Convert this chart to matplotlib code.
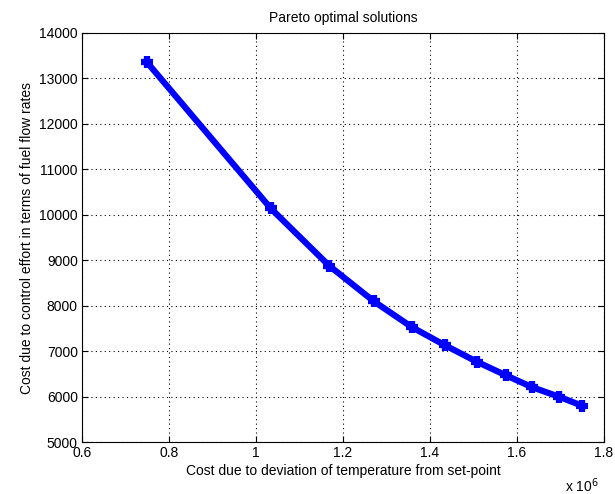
import matplotlib
matplotlib.use("Agg")
import matplotlib.pyplot as plt

# Pareto front points (x in units of 1e6)
deviation_cost = [0.749, 1.034, 1.168, 1.271, 1.358, 1.435, 1.509, 1.575, 1.635, 1.697, 1.749]
control_cost = [13360, 10140, 8880, 8095, 7530, 7125, 6760, 6465, 6205, 5995, 5800]

x_ticks = [0.6, 0.8, 1.0, 1.2, 1.4, 1.6, 1.8]
x_tick_labels = ["0.6", "0.8", "1", "1.2", "1.4", "1.6", "1.8"]
y_ticks = list(range(5000, 14001, 1000))

plt.rcParams['font.family'] = ['Liberation Sans', 'DejaVu Sans']
plt.rcParams['font.size'] = 10

fig = plt.figure(figsize=(6.15, 4.94), dpi=100)
ax = fig.add_axes([82 / 615, 52 / 494, 522 / 615, 409 / 494])

ax.plot(deviation_cost, control_cost, color='#0000ff', linewidth=4.5,
        marker='+', markersize=9, markeredgewidth=4.5)

ax.set_xlim(0.6, 1.8)
ax.set_ylim(5000, 14000)
ax.set_xticks(x_ticks)
ax.set_xticklabels(x_tick_labels)
ax.set_yticks(y_ticks)

ax.grid(True, linestyle=(0, (1, 3)), color='black', linewidth=0.8)
ax.tick_params(direction='in', top=True, right=True, length=4, width=0.8, pad=3)
for s in ax.spines.values():
    s.set_linewidth(0.8)

ax.set_title("Pareto optimal solutions", fontsize=10, pad=8)
ax.set_xlabel("Cost due to deviation of temperature from set-point", fontsize=10, labelpad=3)
ax.set_ylabel("Cost due to control effort in terms of fuel flow rates", fontsize=10, labelpad=4)
ax.text(0.99, -0.085, r"x 10$^6$", transform=ax.transAxes, fontsize=10,
        ha='right', va='top')

fig.savefig("out.png", dpi=100)
